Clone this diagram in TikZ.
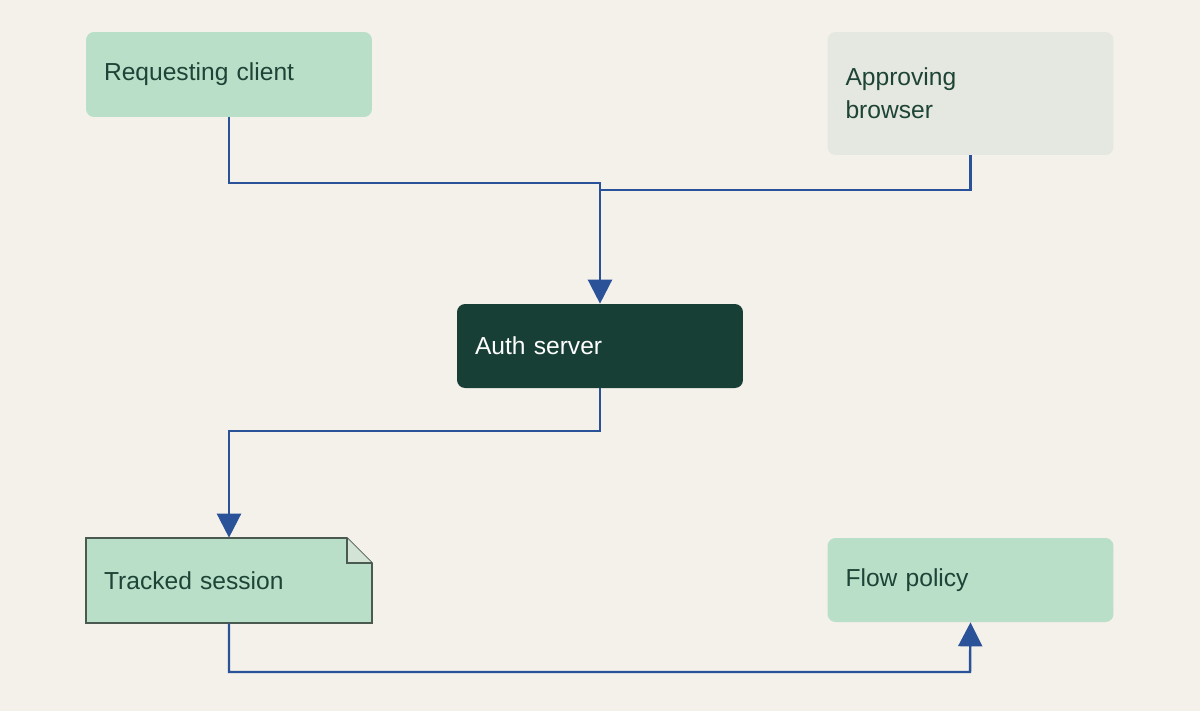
\documentclass[tikz,border=0pt]{standalone}
\usepackage{fontspec}
\setmainfont{Liberation Sans}
\usetikzlibrary{arrows.meta,calc,positioning}
\definecolor{bg}{HTML}{F4F1EA}
\definecolor{mint}{HTML}{B9DFC9}
\definecolor{greyish}{HTML}{E5E8E0}
\definecolor{darkgreen}{HTML}{183F36}
\definecolor{textgreen}{HTML}{1D4436}
\definecolor{flow}{HTML}{2A5298}
\definecolor{edge}{HTML}{4A5A50}
\tikzset{
  box/.style={rounded corners=0.16cm, minimum width=5.72cm, text width=5.0cm,
    align=left, inner xsep=0.36cm, font=\fontsize{14}{19}\selectfont, text=textgreen},
  link/.style={flow, line width=1.4pt},
  tip/.style={-{Triangle[width=0.48cm,length=0.48cm]}}
}
\begin{document}
\begin{tikzpicture}[x=0.02cm,y=-0.02cm]
\fill[bg] (0,0) rectangle (1200,711);
\useasboundingbox (0,0) rectangle (1200,711);
\node (client) [box, fill=mint, minimum height=1.7cm] at (229,74.5) {Requesting client};
\node (browser) [box, fill=greyish, minimum height=2.46cm] at (970.5,93.5) {Approving\\browser};
\node (auth) [box, fill=darkgreen, text=white, minimum height=1.68cm] at (600,346) {Auth server};
% folded note
\draw[fill=mint, draw=edge, line width=0.9pt] (86,538) -- (347,538) -- (372,563) -- (372,623) -- (86,623) -- cycle;
\draw[fill=greyish!60!mint, draw=edge, line width=0.9pt] (347,538) -- (347,563) -- (372,563);
\node (session) [box, minimum height=1.7cm] at (229,580.5) {Tracked session};
\node (policy) [box, fill=mint, minimum height=1.68cm] at (970.5,580) {Flow policy};
\coordinate (join) at (600,190);
\draw[link] (client.south) |- (600,183) -- (join);
\draw[link] (browser.south) |- (join);
\draw[link, tip] (join) -- (auth.north);
\draw[link, tip] (auth.south) |- (229,431) -- (session.north);
\draw[link, tip] (session.south) |- (970,672) -- (policy.south);
\end{tikzpicture}
\end{document}
